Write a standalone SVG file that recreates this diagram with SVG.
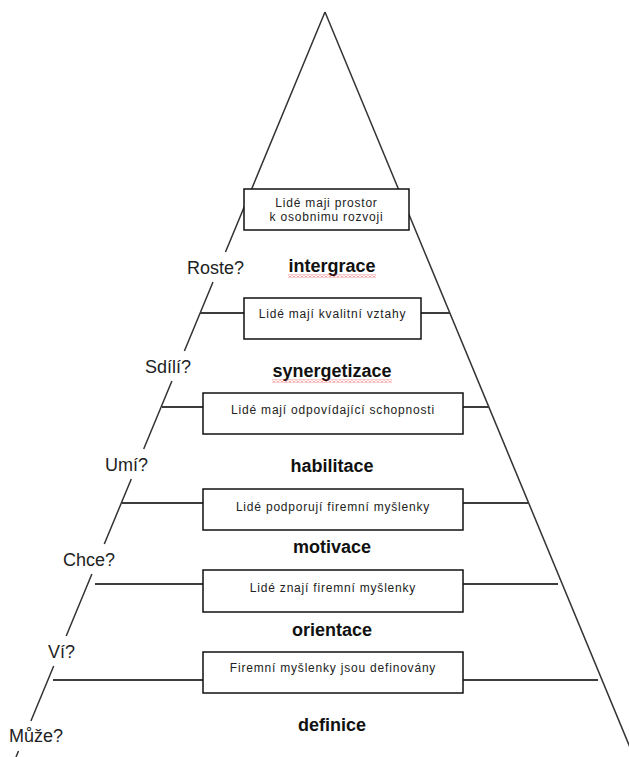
<svg xmlns="http://www.w3.org/2000/svg" width="629" height="757" viewBox="0 0 629 757">
<style>
.edge{fill:none;stroke:#333;stroke-width:1.5;stroke-linecap:butt}
.hline{fill:none;stroke:#3c3c3c;stroke-width:1.8}
.box{fill:#fff;stroke:#111;stroke-width:1.5}
.btxt{font-family:"Liberation Sans",Arial,sans-serif;font-size:12px;letter-spacing:0.8px;fill:#222;text-anchor:middle}
.lvl{font-family:"Liberation Sans",Arial,sans-serif;font-size:18px;font-weight:bold;fill:#111;text-anchor:middle}
.q{font-family:"Liberation Sans",Arial,sans-serif;font-size:18px;fill:#222}
</style>
<defs>
<pattern id="squiggle" width="4" height="3" patternUnits="userSpaceOnUse">
<path d="M0,2.5 L2,0.5 L4,2.5" fill="none" stroke="#e02020" stroke-width="0.9"/>
</pattern>
</defs>
<rect width="629" height="757" fill="#fff"/>
<g id="connectors">
<path class="edge" d="M325,12 L634,757"/>
<path class="edge" d="M325,12 L225.5,252 M213,282 L184.4,351 M171.9,381 L143.7,449 M131.3,479 L104.3,544 M91.9,574 L66.2,636 M53.7,666 L30.9,721 M18.5,751 L16,757"/>
<path class="hline" d="M200,313 H244 M421,313 H450"/>
<path class="hline" d="M162,407 H203 M463,407 H489"/>
<path class="hline" d="M122,503 H203 M463,503 H529"/>
<path class="hline" d="M95,584 H203 M463,584 H558"/>
<path class="hline" d="M53,680 H203 M463,680 H598"/>
</g>
<g id="box1">
<rect class="box" x="244" y="189" width="165" height="41"/>
<text class="btxt" x="326.5" y="207">Lidé maji prostor</text>
<text class="btxt" x="326.5" y="221">k osobnimu rozvoji</text>
</g>
<g id="box2">
<rect class="box" x="244" y="298" width="177" height="41"/>
<text class="btxt" x="332.5" y="318">Lidé mají kvalitní vztahy</text>
</g>
<g id="box3">
<rect class="box" x="203" y="393" width="260" height="41"/>
<text class="btxt" x="333" y="414">Lidé mají odpovídající schopnosti</text>
</g>
<g id="box4">
<rect class="box" x="203" y="489" width="260" height="41"/>
<text class="btxt" x="333" y="511">Lidé podporují firemní myšlenky</text>
</g>
<g id="box5">
<rect class="box" x="203" y="570" width="260" height="42"/>
<text class="btxt" x="333" y="592">Lidé znají firemní myšlenky</text>
</g>
<g id="box6">
<rect class="box" x="203" y="652" width="260" height="41"/>
<text class="btxt" x="333" y="672">Firemní myšlenky jsou definovány</text>
</g>
<g id="level-intergrace">
<text class="lvl" x="332" y="272">intergrace</text>
<rect x="288" y="274.5" width="88" height="3" fill="url(#squiggle)"/>
</g>
<g id="level-synergetizace">
<text class="lvl" x="332" y="377">synergetizace</text>
<rect x="272" y="379.5" width="120" height="3" fill="url(#squiggle)"/>
</g>
<g id="level-habilitace"><text class="lvl" x="332" y="472">habilitace</text></g>
<g id="level-motivace"><text class="lvl" x="332" y="553">motivace</text></g>
<g id="level-orientace"><text class="lvl" x="332" y="636">orientace</text></g>
<g id="level-definice"><text class="lvl" x="332" y="731">definice</text></g>
<g id="q-roste"><text class="q" x="187" y="274">Roste?</text></g>
<g id="q-sdili"><text class="q" x="145" y="373">Sdílí?</text></g>
<g id="q-umi"><text class="q" x="105" y="471">Umí?</text></g>
<g id="q-chce"><text class="q" x="63" y="566">Chce?</text></g>
<g id="q-vi"><text class="q" x="48" y="658">Ví?</text></g>
<g id="q-muze"><text class="q" x="9" y="742">Může?</text></g>
</svg>
